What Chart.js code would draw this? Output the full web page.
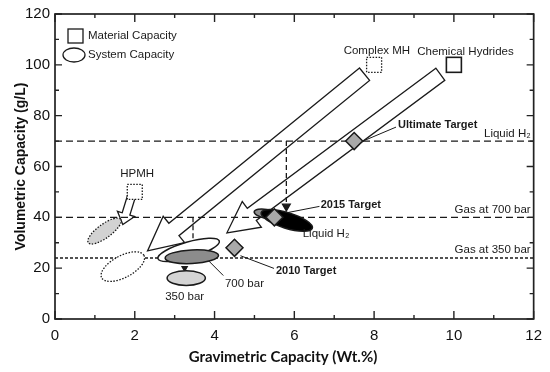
<!DOCTYPE html>
<html>
<head>
<meta charset="utf-8">
<script src="https://cdn.jsdelivr.net/npm/chart.js@4.4.1/dist/chart.umd.min.js"></script>
<style>
    html, body { margin: 0; padding: 0; background: #fff; }
    #wrap { width: 550px; height: 372px; }
</style>
</head>
<body>
<div id="wrap"><canvas id="chart" width="550" height="372"></canvas></div>
<script>
// ===================================
// HYDROGEN STORAGE - VOLUMETRIC vs GRAVIMETRIC
// ===================================

// Axis ticks
const xTicks = [0, 2, 4, 6, 8, 10, 12];
const xMinorTicks = [1, 3, 5, 7, 9, 11];
const yTicks = [0, 20, 40, 60, 80, 100, 120];
const yMinorTicks = [10, 30, 50, 70, 90, 110];

// Horizontal reference levels (g/L)
const refNames = ['Liquid H\u2082', 'Gas at 700 bar', 'Gas at 350 bar'];
const refValues = [70, 40, 24];

// Material capacity (squares)
const materialNames = ['Complex MH', 'Chemical Hydrides', 'HPMH'];
const materialX = [8, 10, 2];
const materialY = [100, 100, 50];

// DOE targets (diamonds)
const targetNames = ['Ultimate Target', '2015 Target', '2010 Target'];
const targetX = [7.5, 5.5, 4.5];
const targetY = [70, 40, 28];

// System capacity ellipses: centre, half width (wt.%), half height (g/L), tilt
const systemNames = ['HPMH', 'HPMH', '700 bar', '700 bar', '350 bar', 'Liquid H2', 'Liquid H2'];
const systemX = [1.24, 1.70, 3.35, 3.43, 3.29, 5.29, 5.81];
const systemY = [34.6, 20.6, 27.2, 24.5, 16.1, 41.4, 38.8];
const systemRx = [0.50, 0.60, 0.80, 0.67, 0.48, 0.30, 0.67];
const systemRy = [2.7, 4.3, 3.1, 2.7, 2.9, 1.75, 3.1];
const systemTilt = [-36, -28, -16, -3, 0, 10, 17];

// Material -> system arrows
const arrowFromX = [7.76, 9.66, 1.96];
const arrowFromY = [96.3, 96.3, 50.5];
const arrowToX = [2.32, 4.31, 1.70];
const arrowToY = [26.8, 33.9, 37.2];

// Vertical drop lines
const dropX = [5.8, 3.46, 3.25];
const dropFromY = [70, 40, 20.8];
const dropToY = [44.3, 31.5, 20.0];

// Leader lines from labels
const leaderFromX = [7.72, 5.84, 4.65, 3.80];
const leaderFromY = [70.0, 41.9, 24.9, 23.7];
const leaderToX = [8.55, 6.63, 5.49, 4.22];
const leaderToY = [75.5, 44.3, 19.9, 17.1];

// Free text notes
const noteTexts = ['Complex MH', 'Chemical Hydrides', 'HPMH', 'Ultimate Target', '2015 Target', '2010 Target', 'Liquid H\u2082', '700 bar', '350 bar'];
const noteX = [8.07, 10.29, 2.06, 8.6, 6.66, 5.54, 6.21, 4.75, 3.25];
const noteY = [105.6, 105.2, 57.1, 76.5, 45.0, 19.0, 33.4, 14.0, 8.9];

// Styles
const FONT = '"Liberation Sans", Arial, sans-serif';
const INK = '#1a1a1a';
const refDash = [[7, 4], [7, 4], [3, 2]];
const materialDotted = [true, false, true];
const systemFill = ['#d2d2d2', '#ffffff', '#ffffff', '#8c8c8c', '#d4d4d4', '#8f8f8f', '#000000'];
const systemDotted = [true, true, false, false, false, false, false];
const arrowShape = [[8, 17, 34], [7.5, 16, 31], [4, 9, 11]];
const dropDash = [[5, 3], [5, 3], []];
const dropHead = [4.5, 0, 3];
const noteBold = [false, false, false, true, true, true, false, false, false];
const noteAlign = ['center', 'center', 'center', 'left', 'left', 'left', 'left', 'center', 'center'];

/**
 * Builds a straight segment for a scatter dataset
 */
function segment(x1, y1, x2, y2, extra) {
    return Object.assign({
        data: [{ x: x1, y: y1 }, { x: x2, y: y2 }],
        showLine: true,
        borderColor: INK,
        borderWidth: 1.3,
        pointRadius: 0,
        fill: false
    }, extra);
}

const datasets = [];

// Targets first so they are drawn on top
datasets.push({
    label: 'targets',
    data: targetX.map((x, i) => ({ x: x, y: targetY[i] })),
    pointStyle: 'rectRot',
    pointRadius: 8.5,
    backgroundColor: '#a9a9a9',
    borderColor: INK,
    borderWidth: 1.5
});

refValues.forEach((v, i) => {
    datasets.push(segment(0, v, 12, v, { borderDash: refDash[i], borderWidth: 1.4 }));
});

dropX.forEach((x, i) => {
    datasets.push(segment(x, dropFromY[i], x, dropToY[i], {
        borderDash: dropDash[i],
        pointRadius: [0, dropHead[i]],
        pointStyle: 'triangle',
        rotation: 180,
        pointBackgroundColor: INK,
        pointBorderColor: INK
    }));
});

leaderFromX.forEach((x, i) => {
    datasets.push(segment(x, leaderFromY[i], leaderToX[i], leaderToY[i], { borderWidth: 1 }));
});

/**
 * Hollow block arrow between two pixel points
 */
function drawBlockArrow(ctx, x1, y1, x2, y2, shaftHalf, headHalf, headLen) {
    const len = Math.hypot(x2 - x1, y2 - y1);
    const ux = (x2 - x1) / len, uy = (y2 - y1) / len;
    const nx = -uy, ny = ux;
    const bx = x2 - ux * headLen, by = y2 - uy * headLen;
    ctx.beginPath();
    ctx.moveTo(x1 + nx * shaftHalf, y1 + ny * shaftHalf);
    ctx.lineTo(bx + nx * shaftHalf, by + ny * shaftHalf);
    ctx.lineTo(bx + nx * headHalf, by + ny * headHalf);
    ctx.lineTo(x2, y2);
    ctx.lineTo(bx - nx * headHalf, by - ny * headHalf);
    ctx.lineTo(bx - nx * shaftHalf, by - ny * shaftHalf);
    ctx.lineTo(x1 - nx * shaftHalf, y1 - ny * shaftHalf);
    ctx.closePath();
    ctx.fillStyle = '#fff';
    ctx.fill();
    ctx.stroke();
}

function drawEllipses(chart) {
    const { ctx, scales: { x: xs, y: ys } } = chart;
    ctx.save();
    systemX.forEach((x, i) => {
        const cx = xs.getPixelForValue(x);
        const cy = ys.getPixelForValue(systemY[i]);
        const rx = Math.abs(xs.getPixelForValue(x + systemRx[i]) - cx);
        const ry = Math.abs(ys.getPixelForValue(systemY[i] + systemRy[i]) - cy);
        ctx.beginPath();
        ctx.ellipse(cx, cy, rx, ry, systemTilt[i] * Math.PI / 180, 0, Math.PI * 2);
        ctx.fillStyle = systemFill[i];
        ctx.fill();
        ctx.setLineDash(systemDotted[i] ? [1.5, 1.5] : []);
        ctx.lineWidth = systemDotted[i] ? 1.3 : 1.5;
        ctx.strokeStyle = INK;
        ctx.stroke();
    });
    ctx.restore();
}

const overlayPlugin = {
    id: 'overlay',
    beforeDatasetsDraw(chart) {
        const { ctx, scales: { x: xs, y: ys } } = chart;
        ctx.save();
        ctx.strokeStyle = INK;
        ctx.lineWidth = 1.3;
        ctx.lineJoin = 'miter';
        arrowFromX.forEach((x, i) => {
            const s = arrowShape[i];
            drawBlockArrow(ctx,
                xs.getPixelForValue(x), ys.getPixelForValue(arrowFromY[i]),
                xs.getPixelForValue(arrowToX[i]), ys.getPixelForValue(arrowToY[i]),
                s[0], s[1], s[2]);
        });
        ctx.restore();
    },
    beforeDatasetDraw(chart, args) {
        if (args.index === 0) drawEllipses(chart);
    },
    afterDatasetsDraw(chart) {
        const { ctx, chartArea: a, scales: { x: xs, y: ys } } = chart;
        ctx.save();

        // Material squares
        materialX.forEach((x, i) => {
            const cx = xs.getPixelForValue(x), cy = ys.getPixelForValue(materialY[i]);
            ctx.setLineDash(materialDotted[i] ? [1.5, 1.5] : []);
            ctx.lineWidth = materialDotted[i] ? 1.3 : 1.6;
            ctx.strokeStyle = INK;
            ctx.fillStyle = '#fff';
            ctx.fillRect(cx - 7.5, cy - 7.5, 15, 15);
            ctx.strokeRect(cx - 7.5, cy - 7.5, 15, 15);
        });
        ctx.setLineDash([]);

        // Notes
        ctx.fillStyle = INK;
        ctx.textBaseline = 'middle';
        noteTexts.forEach((t, i) => {
            ctx.font = (noteBold[i] ? 'bold 11px ' : '11.5px ') + FONT;
            ctx.textAlign = noteAlign[i];
            ctx.fillText(t, xs.getPixelForValue(noteX[i]), ys.getPixelForValue(noteY[i]));
        });

        // Reference level labels
        ctx.font = '11.5px ' + FONT;
        ctx.textAlign = 'right';
        ctx.textBaseline = 'bottom';
        refValues.forEach((v, i) => {
            ctx.fillText(refNames[i], a.right - 3, ys.getPixelForValue(v) - 2);
        });

        // Legend
        ctx.strokeStyle = INK;
        ctx.lineWidth = 1.3;
        ctx.strokeRect(a.left + 13, a.top + 15, 15, 14);
        ctx.beginPath();
        ctx.ellipse(a.left + 19, a.top + 41, 11, 7, 0, 0, Math.PI * 2);
        ctx.stroke();
        ctx.font = '11.5px ' + FONT;
        ctx.textAlign = 'left';
        ctx.textBaseline = 'middle';
        ctx.fillText('Material Capacity', a.left + 33, a.top + 22);
        ctx.fillText('System Capacity', a.left + 33, a.top + 41);

        // Frame and inward ticks
        ctx.lineWidth = 1.7;
        ctx.strokeStyle = '#222';
        ctx.strokeRect(a.left, a.top, a.right - a.left, a.bottom - a.top);
        ctx.lineWidth = 1.4;
        ctx.beginPath();
        const tickX = (v, len) => {
            const p = xs.getPixelForValue(v);
            ctx.moveTo(p, a.bottom); ctx.lineTo(p, a.bottom - len);
            ctx.moveTo(p, a.top); ctx.lineTo(p, a.top + len);
        };
        const tickY = (v, len) => {
            const p = ys.getPixelForValue(v);
            ctx.moveTo(a.left, p); ctx.lineTo(a.left + len, p);
            ctx.moveTo(a.right, p); ctx.lineTo(a.right - len, p);
        };
        xTicks.forEach(v => tickX(v, 8));
        xMinorTicks.forEach(v => tickX(v, 4));
        yTicks.forEach(v => tickY(v, 7));
        yMinorTicks.forEach(v => tickY(v, 4));
        ctx.stroke();

        // Axis titles
        ctx.fillStyle = '#111';
        ctx.font = 'bold 15px Lato, "Open Sans", sans-serif';
        ctx.textAlign = 'center';
        ctx.textBaseline = 'middle';
        ctx.fillText('Gravimetric Capacity (Wt.%)', a.left + 228, 357);
        ctx.translate(21, (a.top + a.bottom) / 2);
        ctx.rotate(-Math.PI / 2);
        ctx.font = 'bold 14px ' + FONT;
        ctx.fillText('Volumetric Capacity (g/L)', 0, 0);
        ctx.restore();
    }
};

const tickFont = { family: FONT, size: 15 };

new Chart(document.getElementById('chart'), {
    type: 'scatter',
    data: { datasets: datasets },
    options: {
        responsive: false,
        animation: false,
        events: [],
        layout: { padding: { top: 10, right: 12, left: 0, bottom: 0 } },
        plugins: {
            legend: { display: false },
            tooltip: { enabled: false }
        },
        scales: {
            x: {
                type: 'linear',
                min: 0,
                max: 12,
                afterBuildTicks: s => { s.ticks = xTicks.map(v => ({ value: v })); },
                afterFit: s => { s.height = 53; },
                ticks: { font: tickFont, color: '#111', padding: 8, maxRotation: 0 },
                grid: { display: false, drawTicks: false },
                border: { display: false }
            },
            y: {
                type: 'linear',
                min: 0,
                max: 120,
                afterBuildTicks: s => { s.ticks = yTicks.map(v => ({ value: v })); },
                afterFit: s => { s.width = 55; },
                ticks: { font: tickFont, color: '#111', padding: 5 },
                grid: { display: false, drawTicks: false },
                border: { display: false }
            }
        }
    },
    plugins: [overlayPlugin]
});
</script>
</body>
</html>
